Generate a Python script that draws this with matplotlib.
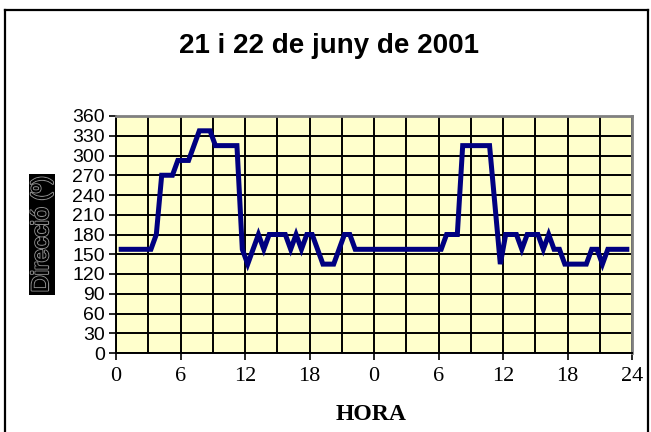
import matplotlib.pyplot as plt
import matplotlib.patheffects as pe
from matplotlib.lines import Line2D
import numpy as np

# half-hourly wind direction, 21 and 22 June 2001 (degrees)
hours = np.arange(96) * 0.5 + 0.25
direction = [
    157.5, 157.5, 157.5, 157.5, 157.5, 157.5, 157.5, 180,
    270, 270, 270, 292.5, 292.5, 292.5, 315, 337.5,
    337.5, 337.5, 315, 315, 315, 315, 315, 157.5,
    135, 157.5, 180, 157.5, 180, 180, 180, 180,
    157.5, 180, 157.5, 180, 180, 157.5, 135, 135,
    135, 157.5, 180, 180, 157.5, 157.5, 157.5, 157.5,
    157.5, 157.5, 157.5, 157.5, 157.5, 157.5, 157.5, 157.5,
    157.5, 157.5, 157.5, 157.5, 157.5, 180, 180, 180,
    315, 315, 315, 315, 315, 315, 225, 135,
    180, 180, 180, 157.5, 180, 180, 180, 157.5,
    180, 157.5, 157.5, 135, 135, 135, 135, 135,
    157.5, 157.5, 135, 157.5, 157.5, 157.5, 157.5, 157.5,
]
xtick_pos = [0, 6, 12, 18, 24, 30, 36, 42, 48]
xtick_labels = ['0', '6', '12', '18', '0', '6', '12', '18', '24']
ytick_vals = list(range(0, 361, 30))

W, H = 651, 432
fig = plt.figure(figsize=(W / 100, H / 100), dpi=100)

# outer chart frame (cropped at the bottom)
for xs, ys in [((5, 5), (10, H + 5)), ((5, 648), (10, 10)), ((648, 648), (10, H + 5))]:
    fig.add_artist(Line2D([x / W for x in xs], [1 - y / H for y in ys],
                          color='black', lw=1.6, transform=fig.transFigure))

ax = fig.add_axes([116 / W, 1 - 353 / H, 516 / W, 237 / H])
ax.set_facecolor('#FFFFCC')
ax.plot(hours, direction, color='#000080', lw=3.6, solid_joinstyle='miter',
        solid_capstyle='butt', zorder=3)

ax.set_xlim(0, 48)
ax.set_ylim(0, 360)
ax.set_xticks(xtick_pos)
ax.set_xticklabels(xtick_labels, family='Liberation Serif', fontsize=16)
ax.set_xticks(range(0, 49, 3), minor=True)
ax.set_yticks(ytick_vals)
ax.set_yticklabels([str(v) for v in ytick_vals], family='Liberation Sans', fontsize=14)
ax.tick_params(axis='x', which='minor', length=0)
ax.tick_params(axis='x', which='major', length=5, width=1.2, pad=5, direction='out')
ax.tick_params(axis='y', length=5, width=1.2, pad=3, direction='out')
ax.xaxis.grid(True, which='both', color='black', lw=1.4)
ax.yaxis.grid(True, color='black', lw=1.4)
ax.set_axisbelow(True)

for s in ['top', 'right']:
    ax.spines[s].set_color('#808080')
    ax.spines[s].set_linewidth(2)
for s in ['left', 'bottom']:
    ax.spines[s].set_color('black')
    ax.spines[s].set_linewidth(1.4)

fig.text(329 / W, 1 - 46 / H, '21 i 22 de juny de 2001', ha='center', va='center',
         family='Liberation Sans', fontweight='bold', fontsize=20)

fig.text(371 / W, 1 - 404 / H, 'HORA', ha='center', va='top',
         family='Liberation Serif', fontweight='bold', fontsize=17)

ylab = fig.text(42 / W, 1 - 234 / H, 'Direcció (º)', rotation=90, ha='center', va='center',
                family='Liberation Sans', fontsize=17, color='black',
                bbox=dict(facecolor='black', edgecolor='none', pad=1.5))
ylab.set_path_effects([pe.withStroke(linewidth=1.6, foreground='#8a8a8a'), pe.Normal()])

fig.savefig('out.png', dpi=100)
